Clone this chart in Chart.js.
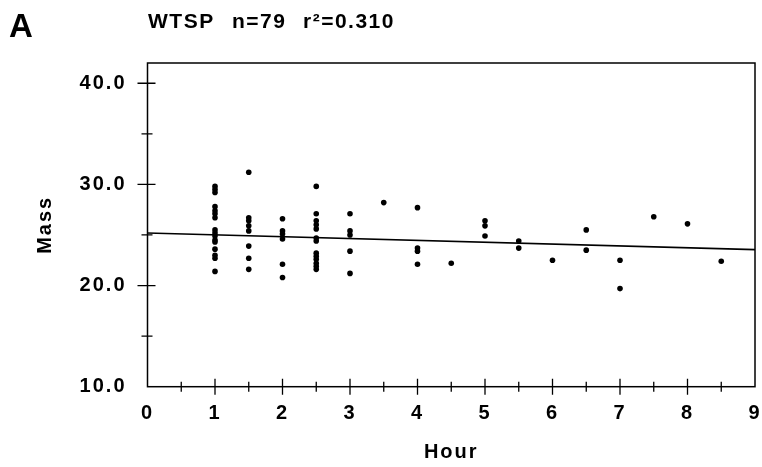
<!DOCTYPE html>
<html><head><meta charset="utf-8">
<script src="https://cdn.jsdelivr.net/npm/chart.js@4/dist/chart.umd.min.js"></script>
<style>html,body{margin:0;padding:0;background:#fff}#wrap{width:762px;height:467px;position:relative}</style>
</head><body><div id="wrap"><canvas id="c" width="762" height="467"></canvas></div>
<script>
// ---- data ----
const hourGroups = [1, 1.5, 2, 2.5, 3, 3.5, 4, 4.5, 5, 5.5, 6, 6.5, 7, 7.5, 8, 8.5];
const massGroups = [
  [29.8, 29.5, 29.2, 27.8, 27.4, 27.1, 26.7, 25.5, 25.2, 24.9, 24.5, 24.3, 23.6, 23.0, 22.7, 21.4],
  [31.2, 26.7, 26.4, 25.9, 25.4, 23.9, 22.7, 21.6],
  [26.6, 25.4, 25.1, 24.6, 22.1, 20.8],
  [29.8, 27.1, 26.4, 26.0, 25.6, 24.7, 24.4, 23.2, 22.9, 22.6, 22.2, 21.9, 21.6],
  [27.1, 25.4, 25.0, 23.4, 21.2],
  [28.2],
  [27.7, 23.7, 23.4, 22.1],
  [22.2],
  [26.4, 25.9, 24.9],
  [24.4, 23.7],
  [22.5],
  [25.5, 23.5],
  [22.5, 19.7],
  [26.8],
  [26.1],
  [22.4]
];
const fitHours = [0, 9];
const fitMass = [25.2, 23.55];
const xTickValues = [0, 1, 2, 3, 4, 5, 6, 7, 8, 9];
const xMinorTicks = [0.5, 1.5, 2.5, 3.5, 4.5, 5.5, 6.5, 7.5, 8.5];
const yTickValues = [10, 20, 30, 40];
const yMinorTicks = [15, 25, 35];
const panelLetter = 'A';
const titleParts = ['WTSP', 'n=79', 'r\u00B2=0.310'];

// ---- build library data ----
const scatterPoints = [];
hourGroups.forEach((h, i) => massGroups[i].forEach(m => scatterPoints.push({x: h, y: m})));
const fitPoints = fitHours.map((h, i) => ({x: h, y: fitMass[i]}));

const FONT = '"Liberation Sans", Arial, Helvetica, sans-serif';

const framePlugin = {
  id: 'frame',
  beforeDraw(chart) { chart.ctx.letterSpacing = '2px'; },
  beforeDatasetsDraw(chart) {
    const {ctx, chartArea: a, scales: {x, y}} = chart;
    ctx.save();
    ctx.letterSpacing = '0px';
    ctx.strokeStyle = '#000';
    ctx.lineWidth = 1.5;
    ctx.strokeRect(a.left, a.top, a.right - a.left, a.bottom - a.top);
    ctx.lineWidth = 1.3;
    ctx.beginPath();
    yTickValues.forEach(v => {
      if (v === y.min) return;
      const py = y.getPixelForValue(v);
      ctx.moveTo(a.left - 10, py); ctx.lineTo(a.left + 8, py);
    });
    yMinorTicks.forEach(v => {
      const py = y.getPixelForValue(v);
      ctx.moveTo(a.left - 6, py); ctx.lineTo(a.left + 5, py);
    });
    xTickValues.forEach(v => {
      if (v === x.min || v === x.max) return;
      const px = x.getPixelForValue(v);
      ctx.moveTo(px, a.bottom - 8); ctx.lineTo(px, a.bottom + 8);
    });
    xMinorTicks.forEach(v => {
      const px = x.getPixelForValue(v);
      ctx.moveTo(px, a.bottom - 5); ctx.lineTo(px, a.bottom + 5);
    });
    ctx.stroke();
    ctx.restore();
  },
  afterDraw(chart) {
    const ctx = chart.ctx;
    ctx.save();
    ctx.fillStyle = '#000';
    ctx.textAlign = 'left';
    ctx.textBaseline = 'alphabetic';
    ctx.letterSpacing = '0px';
    ctx.font = 'bold 33px ' + FONT;
    ctx.fillText(panelLetter, 9, 37);
    ctx.font = 'bold 21px ' + FONT;
    ctx.letterSpacing = '1.5px';
    const xs = [148, 232, 303];
    titleParts.forEach((t, i) => ctx.fillText(t, xs[i], 27.5));
    ctx.restore();
  }
};

const tickFont = {family: FONT, size: 20, weight: 'bold'};

new Chart(document.getElementById('c'), {
  type: 'scatter',
  data: {
    datasets: [
      {
        type: 'scatter',
        data: scatterPoints,
        backgroundColor: '#000',
        borderWidth: 0,
        pointRadius: 2.8,
        order: 1
      },
      {
        type: 'line',
        data: fitPoints,
        borderColor: '#000',
        borderWidth: 1.6,
        pointRadius: 0,
        fill: false,
        order: 2
      }
    ]
  },
  options: {
    responsive: false,
    animation: false,
    events: [],
    layout: {padding: {top: 63, right: 7, bottom: 0, left: 0}},
    plugins: {legend: {display: false}, tooltip: {enabled: false}, title: {display: false}},
    scales: {
      x: {
        type: 'linear', min: 0, max: 9,
        afterBuildTicks: s => { s.ticks = xTickValues.map(v => ({value: v})); },
        afterFit: s => { s.height = 80.3; s.paddingLeft = 0; s.paddingRight = 0; },
        grid: {display: false},
        border: {display: false},
        ticks: {color: '#000', font: tickFont, padding: 7, maxRotation: 0, autoSkip: false,
                callback: v => String(v)},
        title: {display: true, text: 'Hour', color: '#000', font: tickFont, padding: {top: 0, bottom: 3}}
      },
      y: {
        type: 'linear', min: 10, max: 42,
        afterBuildTicks: s => { s.ticks = yTickValues.map(v => ({value: v})); },
        afterFit: s => { s.width = 147.5; s.paddingTop = 0; s.paddingBottom = 0; },
        grid: {display: false},
        border: {display: false},
        ticks: {color: '#000', font: tickFont, padding: 13, callback: v => Number(v).toFixed(1)},
        title: {display: true, text: 'Mass', color: '#000', font: tickFont, padding: {top: 33, bottom: 0}}
      }
    }
  },
  plugins: [framePlugin]
});
</script>
</body></html>
